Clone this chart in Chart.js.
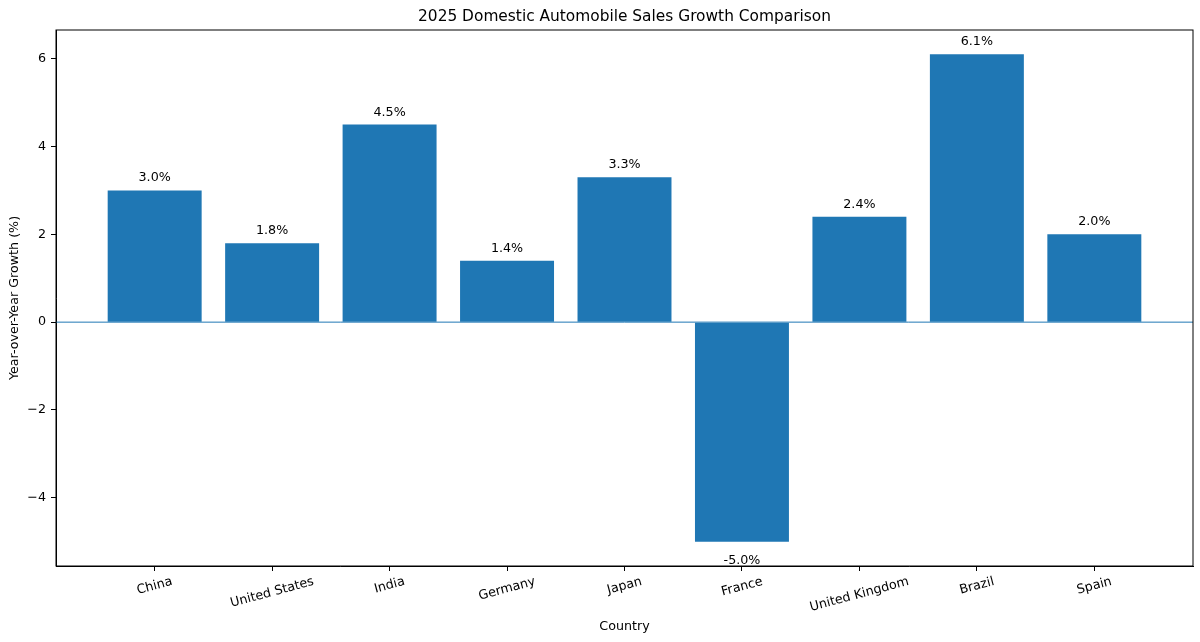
<!DOCTYPE html>
<html>
<head>
<meta charset="utf-8">
<script src="https://cdn.jsdelivr.net/npm/chart.js@4.4.0/dist/chart.umd.min.js"></script>
<style>
  html, body { margin: 0; padding: 0; background: #fff; }
</style>
</head>
<body>
<canvas id="bar-chart" width="1200" height="642"></canvas>
<script>
const countries = ['China', 'United States', 'India', 'Germany', 'Japan', 'France', 'United Kingdom', 'Brazil', 'Spain'];
const growth = [3.0, 1.8, 4.5, 1.4, 3.3, -5.0, 2.4, 6.1, 2.0];
const yTicks = [-4, -2, 0, 2, 4, 6];

const FONT = '"DejaVu Sans", "Liberation Sans", sans-serif';
const BLUE = '#1f77b4';
const FS = 12.7;

// horizontal line at y = 0, drawn under the bars
const zeroLine = {
  id: 'zeroLine',
  beforeDatasetsDraw(chart) {
    const { ctx, chartArea } = chart;
    const y0 = chart.scales.y.getPixelForValue(0);
    ctx.save();
    ctx.strokeStyle = BLUE;
    ctx.lineWidth = 1;
    ctx.beginPath();
    ctx.moveTo(chartArea.left, y0);
    ctx.lineTo(chartArea.right, y0);
    ctx.stroke();
    ctx.restore();
  }
};

// value labels above / below each bar
const barLabels = {
  id: 'barLabels',
  afterDatasetsDraw(chart) {
    const { ctx } = chart;
    const meta = chart.getDatasetMeta(0);
    ctx.save();
    ctx.font = FS + 'px ' + FONT;
    ctx.fillStyle = '#000';
    ctx.textAlign = 'center';
    ctx.textBaseline = 'alphabetic';
    meta.data.forEach((bar, i) => {
      const v = growth[i];
      const y = v >= 0 ? bar.y - 9 : bar.y + 22;
      ctx.fillText(v.toFixed(1) + '%', bar.x, y);
    });
    ctx.restore();
  }
};

// box frame + rotated category labels (centred under the tick like matplotlib)
const frameAndLabels = {
  id: 'frameAndLabels',
  afterDraw(chart) {
    const { ctx, chartArea } = chart;
    ctx.save();
    ctx.strokeStyle = '#000';
    ctx.lineWidth = 1;
    ctx.strokeRect(chartArea.left, chartArea.top, chartArea.right - chartArea.left, chartArea.bottom - chartArea.top);

    const xs = chart.scales.x;
    const ang = 15 * Math.PI / 180;
    const h = FS * 1.16;
    const top = chartArea.bottom + 8.3;
    ctx.font = FS + 'px ' + FONT;
    ctx.fillStyle = '#000';
    ctx.textAlign = 'center';
    ctx.textBaseline = 'middle';
    countries.forEach((c, i) => {
      const w = ctx.measureText(c).width;
      const H = w * Math.sin(ang) + h * Math.cos(ang);
      ctx.save();
      ctx.translate(xs.getPixelForValue(i), top + H / 2);
      ctx.rotate(-ang);
      ctx.fillText(c, 0, 0);
      ctx.restore();
    });
    ctx.restore();
  }
};

const tickFont = { family: FONT, size: FS };

new Chart(document.getElementById('bar-chart'), {
  type: 'bar',
  data: {
    datasets: [{
      data: countries.map((c, i) => ({ x: i, y: growth[i] })),
      backgroundColor: BLUE,
      borderWidth: 0,
      barPercentage: 0.8,
      categoryPercentage: 1.0
    }]
  },
  options: {
    responsive: false,
    animation: false,
    layout: { padding: { left: 0, right: 7, top: 0, bottom: 0 } },
    plugins: {
      legend: { display: false },
      tooltip: { enabled: false },
      title: {
        display: true,
        fullSize: false,
        text: '2025 Domestic Automobile Sales Growth Comparison',
        color: '#000',
        font: { family: FONT, size: 15.4, weight: 'normal' },
        padding: { top: 7.75, bottom: 3.77 }
      }
    },
    scales: {
      x: {
        type: 'linear',
        min: -0.84,
        max: 8.84,
        offset: false,
        afterBuildTicks: s => { s.ticks = countries.map((c, i) => ({ value: i })); },
        afterFit: s => { s.height = 76; },
        ticks: { display: false },
        grid: { offset: false, drawOnChartArea: false, drawTicks: true, tickLength: 5, tickColor: '#000', tickWidth: 1 },
        border: { display: true, color: '#000', width: 1 },
        title: {
          display: true, text: 'Country', color: '#000',
          font: tickFont, padding: { top: 0, bottom: 8 }
        }
      },
      y: {
        min: -5.555,
        max: 6.655,
        afterBuildTicks: s => { s.ticks = yTicks.map(v => ({ value: v })); },
        afterFit: s => { s.width = 56; },
        ticks: {
          color: '#000', font: tickFont, padding: 5,
          callback: v => String(v).replace('-', '\u2212')
        },
        grid: { drawOnChartArea: false, drawTicks: true, tickLength: 5, tickColor: '#000', tickWidth: 1 },
        border: { display: true, color: '#000', width: 1 },
        title: {
          display: true, text: 'Year-over-Year Growth (%)', color: '#000',
          font: tickFont, padding: { top: 6.7, bottom: 0 }
        }
      }
    }
  },
  plugins: [zeroLine, barLabels, frameAndLabels]
});
</script>
</body>
</html>
